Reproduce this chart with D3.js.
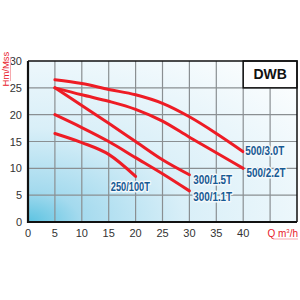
<!DOCTYPE html>
<html>
<head>
<meta charset="utf-8">
<script src="https://cdn.jsdelivr.net/npm/d3@7"></script>
<style>
  body { margin: 0; background: #fff; }
  svg { display: block; font-family: "Liberation Sans Narrow", "Liberation Sans", Arial, sans-serif; }
</style>
</head>
<body>
<div id="chart"></div>
<script>
const xTicks = [0, 5, 10, 15, 20, 25, 30, 35, 40],
    yTicks = [0, 5, 10, 15, 20, 25, 30],
    xGrid = [5, 10, 15, 20, 25, 30, 35, 40, 45];

const curve500_30 = [[5, 26.5], [10, 25.8], [15, 24.7], [20, 23.7], [25, 22.1], [30, 19.6], [35, 16.5], [40, 13.1]],
    curve500_22 = [[5, 25], [10, 23.7], [15, 22.5], [20, 21], [25, 18.8], [30, 15.8], [35, 12.9], [40, 10]],
    curve300_15 = [[5, 25], [10, 21.7], [15, 18.4], [20, 15], [25, 11.6], [30, 8.8]],
    curve300_11 = [[5, 20], [10, 17.6], [15, 15], [20, 12], [25, 9], [30, 5.8]],
    curve250_100 = [[5, 16.5], [10, 14.8], [15, 12.6], [20, 8.5]];

const curves = [curve500_30, curve500_22, curve300_15, curve300_11, curve250_100];

// label text and anchor point (data units)
const curveLabels = [
  {text: "500/3.0T", x: 40.4, y: 13.4},
  {text: "500/2.2T", x: 40.6, y: 9.3},
  {text: "300/1.5T", x: 30.7, y: 8.0},
  {text: "300/1.1T", x: 30.7, y: 4.8},
  {text: "250/100T", x: 15.4, y: 6.7}
];

const width = 300, height = 300,
    margin = {left: 28, top: 61, right: 3, bottom: 78};

const svg = d3.select("#chart").append("svg")
    .attr("width", width)
    .attr("height", height);

const x = d3.scaleLinear().domain([0, 50]).range([margin.left, width - margin.right]),
    y = d3.scaleLinear().domain([0, 30]).range([height - margin.bottom, margin.top]);

const defs = svg.append("defs");
const grad = defs.append("radialGradient")
    .attr("id", "bg")
    .attr("cx", 0).attr("cy", 1).attr("r", 1.3);
grad.append("stop").attr("offset", 0).attr("stop-color", "#5cc3e1");
grad.append("stop").attr("offset", 0.15).attr("stop-color", "#a4daee");
grad.append("stop").attr("offset", 0.45).attr("stop-color", "#d9eff8");
grad.append("stop").attr("offset", 1).attr("stop-color", "#fbfdfe");

svg.append("rect")
    .attr("x", x(0)).attr("y", y(30))
    .attr("width", x(50) - x(0)).attr("height", y(0) - y(30))
    .attr("fill", "url(#bg)");

// grid
svg.append("g").selectAll("line")
    .data(xGrid).enter().append("line")
    .attr("x1", d => x(d)).attr("x2", d => x(d))
    .attr("y1", y(0)).attr("y2", y(30))
    .attr("stroke", "#8a8f92").attr("stroke-width", 1.2);

svg.append("g").selectAll("line")
    .data(yTicks.slice(1, -1)).enter().append("line")
    .attr("x1", x(0)).attr("x2", x(50))
    .attr("y1", d => y(d)).attr("y2", d => y(d))
    .attr("stroke", "#8a8f92").attr("stroke-width", 1.2);

// DWB box
svg.append("rect")
    .attr("x", x(40)).attr("y", y(30))
    .attr("width", x(50) - x(40)).attr("height", y(25) - y(30))
    .attr("fill", "#fff").attr("stroke", "#111").attr("stroke-width", 1.5);
svg.append("text")
    .attr("x", (x(40) + x(50)) / 2).attr("y", (y(25) + y(30)) / 2 + 5)
    .attr("text-anchor", "middle")
    .style("font-family", "'Liberation Sans', Arial, sans-serif")
    .style("font-size", "14px").style("font-weight", "bold")
    .attr("fill", "#111")
    .text("DWB");

// frame
svg.append("path")
    .attr("d", `M${x(0)},${y(30)}H${x(50)}V${y(0)}`)
    .attr("fill", "none").attr("stroke", "#111").attr("stroke-width", 1.5);
svg.append("path")
    .attr("d", `M${x(0)},${y(30)}V${y(0)}H${x(50)}`)
    .attr("fill", "none").attr("stroke", "#111").attr("stroke-width", 2.2);

// curves
const line = d3.line().x(d => x(d[0])).y(d => y(d[1])).curve(d3.curveMonotoneX);
svg.append("g").selectAll("path")
    .data(curves).enter().append("path")
    .attr("d", line)
    .attr("fill", "none")
    .attr("stroke", "#ee1c25")
    .attr("stroke-width", 3)
    .attr("stroke-linecap", "round");

// curve labels
const lab = svg.append("g").selectAll("g")
    .data(curveLabels).enter().append("g");
lab.append("text")
    .attr("x", d => x(d.x)).attr("y", d => y(d.y) + 4.5)
    .attr("textLength", 39).attr("lengthAdjust", "spacingAndGlyphs")
    .style("font-size", "13px").style("font-weight", "bold")
    .attr("fill", "#fff").attr("stroke", "#f4f8fa").attr("stroke-width", 3)
    .attr("stroke-linejoin", "round")
    .text(d => d.text);
lab.append("text")
    .attr("x", d => x(d.x)).attr("y", d => y(d.y) + 4.5)
    .attr("textLength", 39).attr("lengthAdjust", "spacingAndGlyphs")
    .style("font-size", "13px").style("font-weight", "bold")
    .attr("fill", "#175a94")
    .text(d => d.text);

// tick labels
svg.append("g").selectAll("text")
    .data(yTicks).enter().append("text")
    .attr("x", x(0) - 6).attr("y", d => y(d) + 4)
    .attr("text-anchor", "end")
    .style("font-size", "11px")
    .attr("fill", "#333")
    .text(d => d);

svg.append("g").selectAll("text")
    .data(xTicks).enter().append("text")
    .attr("x", d => x(d)).attr("y", y(0) + 15)
    .attr("text-anchor", "middle")
    .style("font-size", "11px")
    .attr("fill", "#333")
    .text(d => d);

// axis titles
const qt = svg.append("text")
    .attr("x", x(50) + 1).attr("y", y(0) + 15)
    .attr("text-anchor", "end")
    .style("font-size", "10px")
    .attr("fill", "#e8202a");
qt.append("tspan").text("Q m");
qt.append("tspan").attr("dy", -4).style("font-size", "6px").text("3");
qt.append("tspan").attr("dy", 4).text("/h");
svg.append("line")
    .attr("x1", x(50) - 24).attr("x2", x(50) + 1)
    .attr("y1", y(0) + 17).attr("y2", y(0) + 17)
    .attr("stroke", "#f7a9ad").attr("stroke-width", 1);

svg.append("text")
    .attr("transform", `translate(${x(0) - 19},${y(28.5)}) rotate(-90)`)
    .attr("text-anchor", "middle")
    .style("font-size", "9.5px")
    .attr("fill", "#e8202a")
    .text("Hm/Mss");
svg.append("line")
    .attr("x1", x(0) - 17.5).attr("x2", x(0) - 17.5)
    .attr("y1", y(28.5) - 12).attr("y2", y(28.5) + 12)
    .attr("stroke", "#f7a9ad").attr("stroke-width", 1);
</script>
</body>
</html>
